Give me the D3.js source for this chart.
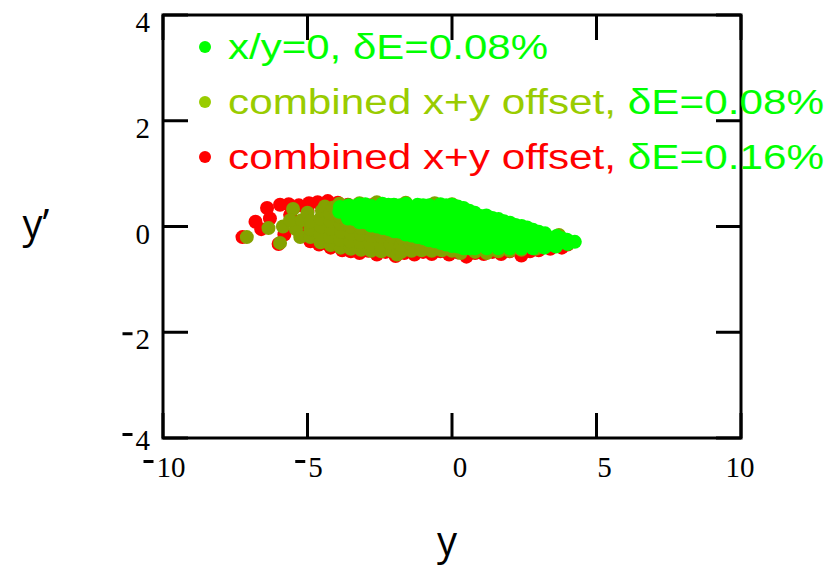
<!DOCTYPE html>
<html lang="en">
<head>
<meta charset="utf-8">
<title>y' vs y phase space</title>
<script src="https://d3js.org/d3.v7.min.js"></script>
<style>
  body { margin: 0; background: #fff; }
  svg { display: block; }
</style>
</head>
<body>
<div id="chart"></div>
<script>
// tick values for both axes
var xTicks = [-10, -5, 0, 5, 10];
var yTicks = [-4, -2, 0, 2, 4];

// red: combined x+y offset, dE=0.16%  (drawn first, underneath)
var redPts = [
  [-7.25,-0.20],[-6.80,0.09],[-6.40,0.35],[-5.95,0.41],[-6.00,-0.33],[-6.30,0.15],
  [-6.60,-0.05],[-5.80,-0.15],[-5.60,0.22],[-5.65,0.42],[-5.30,0.40],[-5.00,0.30],
  [-4.95,0.44],[-4.65,0.46],[-4.30,0.48],[-3.95,0.45],[-3.60,0.41],[-3.20,0.42],
  [-2.80,0.40],[-2.40,0.41],[-2.00,0.40],[-1.60,0.40],[-1.20,0.39],[-0.80,0.38],
  [-5.20,-0.10],[-4.90,-0.28],[-4.60,-0.34],[-4.20,-0.40],[-3.80,-0.45],[-3.50,-0.47],
  [-3.20,-0.50],[-2.90,-0.46],[-2.60,-0.53],[-2.30,-0.48],[-1.95,-0.56],[-1.65,-0.50],
  [-1.30,-0.53],[-1.00,-0.48],[-0.70,-0.52],[-0.40,-0.47],[-0.10,-0.53],[0.20,-0.49],
  [0.50,-0.57],[0.80,-0.50],[1.10,-0.52],[1.40,-0.48],[1.70,-0.52],[2.00,-0.47],
  [2.40,-0.55],[2.70,-0.47],[3.00,-0.45],[3.40,-0.42],[3.80,-0.40],[4.00,-0.34]
];

// olive: combined x+y offset, dE=0.08%
var olivePts = [
  [-7.10,-0.20],[-6.35,-0.03],[-5.95,-0.31],[-5.85,0.00],[-5.50,0.33],[-5.40,-0.05],
  [-5.60,0.12],[-5.20,0.12],[-5.25,-0.20],[-5.00,0.26],[-4.90,-0.20],[-4.90,-0.05],
  [-4.88,0.10],[-4.55,-0.30],[-4.55,-0.15],[-4.52,0.00],[-4.55,0.15],[-4.50,0.30],
  [-4.40,0.38],[-4.20,-0.35],[-4.22,-0.20],[-4.18,-0.05],[-4.20,0.10],[-4.21,0.25],
  [-4.10,0.36],[-3.90,0.43],[-3.85,-0.40],[-3.87,-0.25],[-3.83,-0.10],[-3.85,0.05],
  [-3.86,0.18],[-3.50,-0.42],[-3.52,-0.28],[-3.48,-0.14],[-3.50,0.00],[-3.15,-0.44],
  [-3.17,-0.30],[-3.13,-0.16],[-3.15,-0.03],[-2.80,-0.46],[-2.82,-0.32],[-2.78,-0.18],
  [-2.80,-0.06],[-2.45,-0.47],[-2.47,-0.34],[-2.43,-0.20],[-2.45,-0.10],[-2.10,-0.46],
  [-2.12,-0.33],[-2.08,-0.20],[-1.90,-0.53],[-1.75,-0.48],[-1.77,-0.35],[-1.73,-0.22],
  [-1.40,-0.46],[-1.42,-0.33],[-1.38,-0.25],[-1.05,-0.45],[-1.07,-0.35],[-0.70,-0.46],
  [-0.72,-0.38],[-0.35,-0.45],[0.00,-0.46],[0.30,-0.50],[0.80,-0.48],[1.20,-0.50],
  [1.60,-0.47],[2.00,-0.46],[2.40,-0.44],[2.90,-0.42],[3.30,-0.35],[3.60,-0.30],
  [3.70,-0.16],[-3.20,0.44],[-2.60,0.46],[-1.60,0.45],[-0.60,0.44],[0.00,0.42]
];

// green: x/y=0, dE=0.08%
var greenPts = [
  [-3.90,0.28],[-3.88,0.37],
  [-3.60,0.15],[-3.62,0.27],[-3.58,0.40],
  [-3.40,0.14],[-3.40,0.26],[-3.40,0.38],
  [-3.20,0.08],[-3.22,0.20],[-3.18,0.32],[-3.20,0.42],
  [-3.00,0.08],[-3.00,0.20],[-3.00,0.32],[-3.00,0.42],
  [-2.80,0.02],[-2.82,0.14],[-2.78,0.26],[-2.80,0.39],
  [-2.60,0.00],[-2.60,0.12],[-2.60,0.24],[-2.60,0.36],
  [-2.40,-0.03],[-2.42,0.10],[-2.38,0.22],[-2.40,0.34],[-2.41,0.43],
  [-2.20,-0.05],[-2.20,0.07],[-2.20,0.19],[-2.20,0.31],[-2.20,0.41],
  [-2.00,-0.09],[-2.02,0.04],[-1.98,0.16],[-2.00,0.28],[-2.01,0.41],
  [-1.80,-0.10],[-1.80,0.03],[-1.80,0.16],[-1.80,0.29],[-1.80,0.40],
  [-1.60,-0.15],[-1.62,-0.02],[-1.58,0.11],[-1.60,0.24],[-1.61,0.36],[-1.59,0.43],
  [-1.40,-0.17],[-1.40,-0.05],[-1.40,0.08],[-1.40,0.20],[-1.40,0.33],
  [-1.20,-0.20],[-1.22,-0.07],[-1.18,0.06],[-1.20,0.19],[-1.21,0.31],[-1.19,0.41],
  [-1.00,-0.22],[-1.00,-0.10],[-1.00,0.02],[-1.00,0.15],[-1.00,0.28],[-1.00,0.40],
  [-0.80,-0.26],[-0.82,-0.13],[-0.78,0.00],[-0.80,0.13],[-0.81,0.26],[-0.79,0.40],
  [-0.60,-0.28],[-0.60,-0.16],[-0.60,-0.03],[-0.60,0.10],[-0.60,0.23],[-0.60,0.36],
  [-0.40,-0.31],[-0.42,-0.18],[-0.38,-0.05],[-0.40,0.08],[-0.41,0.21],[-0.39,0.34],[-0.40,0.42],
  [-0.20,-0.34],[-0.20,-0.21],[-0.20,-0.08],[-0.20,0.05],[-0.20,0.18],[-0.20,0.30],[-0.20,0.40],
  [0.00,-0.37],[-0.02,-0.24],[0.02,-0.10],[0.00,0.04],[0.01,0.17],[-0.01,0.30],[0.00,0.41],
  [0.20,-0.38],[0.20,-0.25],[0.20,-0.12],[0.20,0.01],[0.20,0.14],[0.20,0.27],[0.20,0.38],
  [0.40,-0.41],[0.38,-0.28],[0.42,-0.15],[0.40,-0.02],[0.41,0.11],[0.39,0.24],[0.40,0.35],
  [0.60,-0.41],[0.60,-0.22],[0.60,-0.08],[0.60,0.06],[0.60,0.20],[0.60,0.30],
  [0.80,-0.41],[0.78,-0.28],[0.82,-0.15],[0.80,-0.02],[0.81,0.12],[0.79,0.26],
  [1.00,-0.35],[1.00,-0.22],[1.00,-0.08],[1.00,0.06],[1.00,0.20],
  [1.20,-0.41],[1.18,-0.28],[1.22,-0.15],[1.20,-0.02],[1.21,0.10],[1.19,0.21],
  [1.40,-0.35],[1.40,-0.22],[1.40,-0.08],[1.40,0.05],[1.40,0.16],
  [1.60,-0.41],[1.58,-0.28],[1.62,-0.15],[1.60,-0.02],[1.61,0.14],
  [1.80,-0.35],[1.80,-0.22],[1.80,-0.09],[1.80,0.03],[1.80,0.10],
  [2.00,-0.41],[1.98,-0.28],[2.02,-0.15],[2.00,-0.03],[2.01,0.07],
  [2.20,-0.35],[2.20,-0.22],[2.20,-0.09],[2.20,0.03],
  [2.40,-0.41],[2.38,-0.28],[2.42,-0.15],[2.40,-0.03],[2.41,0.01],
  [2.60,-0.35],[2.60,-0.22],[2.60,-0.10],[2.60,-0.02],
  [2.80,-0.41],[2.78,-0.29],[2.82,-0.17],[2.80,-0.06],
  [3.00,-0.35],[3.00,-0.22],[3.00,-0.10],
  [3.20,-0.40],[3.18,-0.28],[3.22,-0.13],
  [3.40,-0.34],[3.40,-0.22],
  [3.60,-0.38],[3.58,-0.27],[3.62,-0.18],
  [3.80,-0.30],[3.80,-0.22],
  [4.00,-0.33],[3.98,-0.25],
  [4.25,-0.29]
];

var legendRows = [
  {marker: "#00ff00", parts: [["x/y=0, δE=0.08%", "#00ff00"]], len: 320},
  {marker: "#99cc00", parts: [["combined x+y offset, ", "#99cc00"], ["δE=0.08%", "#00ff00"]], len: 596},
  {marker: "#ff0000", parts: [["combined x+y offset, ", "#ff0000"], ["δE=0.16%", "#00ff00"]], len: 596}
];

var W = 830, H = 567;
var svg = d3.select("#chart").append("svg")
  .attr("width", W)
  .attr("height", H);

var x = d3.scaleLinear().domain([-10, 10]).range([163, 741]);
var y = d3.scaleLinear().domain([-4, 4]).range([438, 15]);
var tickLen = 25;

// points: red under olive under green
var series = [
  {pts: redPts, color: "#ff0000"},
  {pts: olivePts, color: "#84a200"},
  {pts: greenPts, color: "#00ff00"}
];
series.forEach(function(s) {
  svg.append("g").selectAll("circle")
    .data(s.pts)
    .enter().append("circle")
      .attr("cx", function(d) { return x(d[0]); })
      .attr("cy", function(d) { return y(d[1]); })
      .attr("r", 7)
      .attr("fill", s.color);
});

// frame
svg.append("rect")
  .attr("x", x(-10)).attr("y", y(4))
  .attr("width", x(10) - x(-10)).attr("height", y(-4) - y(4))
  .attr("fill", "none").attr("stroke", "#000").attr("stroke-width", 3);

// inward ticks on all four sides
var ticks = svg.append("g").attr("stroke", "#000").attr("stroke-width", 3);
xTicks.forEach(function(t) {
  ticks.append("line").attr("x1", x(t)).attr("x2", x(t)).attr("y1", y(-4)).attr("y2", y(-4) - tickLen);
  ticks.append("line").attr("x1", x(t)).attr("x2", x(t)).attr("y1", y(4)).attr("y2", y(4) + tickLen);
});
yTicks.forEach(function(t) {
  ticks.append("line").attr("x1", x(-10)).attr("x2", x(-10) + tickLen).attr("y1", y(t)).attr("y2", y(t));
  ticks.append("line").attr("x1", x(10)).attr("x2", x(10) - tickLen).attr("y1", y(t)).attr("y2", y(t));
});

var serif = "'Liberation Serif', 'Times New Roman', serif";

// tick label: digits as text, short raised dash in front for negatives
function tickLabel(g, v, px, py, anchor) {
  var t = g.append("text")
    .attr("x", px).attr("y", py)
    .attr("text-anchor", anchor)
    .style("font-family", serif)
    .style("font-size", "29px")
    .text(Math.abs(v));
  if (v < 0) {
    var bb = t.node().getBBox();
    g.append("rect")
      .attr("x", bb.x - 13).attr("y", py - 17)
      .attr("width", 10).attr("height", 3)
      .attr("fill", "#000");
  }
}

var xl = svg.append("g");
xTicks.forEach(function(d) {
  tickLabel(xl, d, x(d) + (d === 10 ? -1 : 8), 477, "middle");
});
var yl = svg.append("g");
yTicks.forEach(function(d) {
  tickLabel(yl, d, 150, y(d) + (d === -4 ? 12 : 17), "end");
});

// axis titles
svg.append("text")
  .attr("x", 36).attr("y", 238)
  .attr("text-anchor", "middle")
  .style("font-family", "'Open Sans', sans-serif")
  .style("font-size", "40px")
  .text("y\u2019");

svg.append("text")
  .attr("x", 447).attr("y", 555)
  .attr("text-anchor", "middle")
  .style("font-family", "'Open Sans', sans-serif")
  .style("font-size", "40px")
  .text("y");

// legend
var leg = svg.append("g");
legendRows.forEach(function(row, i) {
  var cy = 47 + i * 55;
  leg.append("circle").attr("cx", 205).attr("cy", cy).attr("r", 6).attr("fill", row.marker);
  var t = leg.append("text")
    .attr("x", 228).attr("y", cy + 12)
    .attr("textLength", row.len)
    .attr("lengthAdjust", "spacingAndGlyphs")
    .style("font-family", "'Liberation Sans', Arial, sans-serif")
    .style("font-size", "35px");
  row.parts.forEach(function(p) {
    t.append("tspan").attr("fill", p[1]).text(p[0]);
  });
});
</script>
</body>
</html>
